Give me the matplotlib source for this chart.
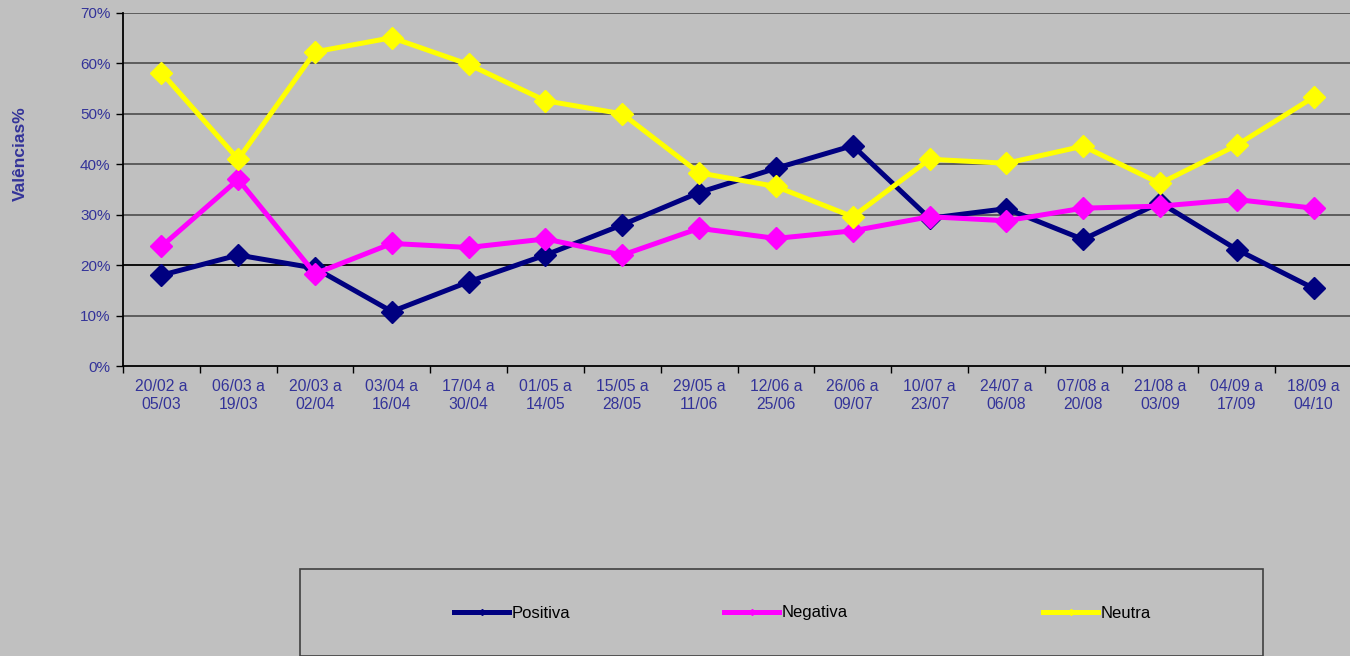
import matplotlib
matplotlib.use("Agg")
import matplotlib.pyplot as plt
from matplotlib.lines import Line2D
from matplotlib.patches import Rectangle
import numpy as np

plt.rcParams['font.family'] = ['Liberation Sans', 'DejaVu Sans']

# Periods (two-line labels) and series values in %
periods = ["20/02 a\n05/03", "06/03 a\n19/03", "20/03 a\n02/04", "03/04 a\n16/04",
           "17/04 a\n30/04", "01/05 a\n14/05", "15/05 a\n28/05", "29/05 a\n11/06",
           "12/06 a\n25/06", "26/06 a\n09/07", "10/07 a\n23/07", "24/07 a\n06/08",
           "07/08 a\n20/08", "21/08 a\n03/09", "04/09 a\n17/09", "18/09 a\n04/10"]
positiva = [18.0, 22.0, 19.4, 10.8, 16.7, 22.0, 28.0, 34.4,
            39.2, 43.7, 29.3, 31.2, 25.1, 32.4, 23.1, 15.4]
negativa = [23.7, 37.0, 18.3, 24.3, 23.5, 25.2, 22.0, 27.3,
            25.3, 26.8, 29.6, 28.8, 31.3, 31.7, 33.0, 31.3]
neutra = [58.2, 41.0, 62.3, 65.1, 59.8, 52.6, 50.0, 38.3,
          35.6, 29.6, 41.0, 40.2, 43.6, 36.2, 43.8, 53.3]

series = [("Positiva", positiva, "#000080"),
          ("Negativa", negativa, "#FF00FF"),
          ("Neutra", neutra, "#FFFF00")]

bg = "#C0C0C0"
txt_blue = "#333399"

fig = plt.figure(figsize=(13.5, 6.56), dpi=100)
fig.patch.set_facecolor(bg)
ax = fig.add_axes([123 / 1350, 1 - 366 / 656, 1229 / 1350, 353 / 656])
ax.set_facecolor(bg)

x = np.arange(len(periods))
for name, vals, col in series:
    ax.plot(x, vals, color=col, lw=3.6, marker="D", markersize=11,
            markeredgecolor=col, solid_joinstyle="miter", label=name, zorder=3)

ax.set_xlim(-0.5, len(periods) - 0.5)
ax.set_ylim(0, 70)
ax.set_yticks(np.arange(0, 71, 10))
ax.set_yticklabels([f"{v}%" for v in range(0, 71, 10)])
for v in range(10, 71, 10):
    ax.axhline(v, color="#000000" if v == 20 else "#555555", lw=1.3, zorder=1)

ax.set_xticks(x)
ax.set_xticklabels(periods, linespacing=1.25)
ax.set_xticks(np.arange(-0.5, len(periods), 1), minor=True)
ax.tick_params(axis="x", which="major", length=0, pad=9, labelsize=11.3, labelcolor=txt_blue)
ax.tick_params(axis="x", which="minor", length=5, width=1, direction="out", color="black")
ax.tick_params(axis="y", length=5, width=1, direction="out", pad=4, labelsize=11,
               labelcolor=txt_blue)

for s in ["top", "right"]:
    ax.spines[s].set_visible(False)
for s in ["left", "bottom"]:
    ax.spines[s].set_color("black")
    ax.spines[s].set_linewidth(1.3)

fig.text(20 / 1350, 1 - 154 / 656, "Valências%", rotation=90, ha="center", va="center",
         fontsize=12.5, fontweight="bold", color=txt_blue)

# legend box
fig.patches.append(Rectangle((300 / 1350, 0), 963 / 1350, (656 - 569) / 656,
                             transform=fig.transFigure, facecolor=bg,
                             edgecolor="#404040", lw=1.2))
leg_x = [452, 722, 1041]
for (name, vals, col), lx in zip(series, leg_x):
    h = Line2D([], [], color=col, lw=3.6, marker="D", markersize=3, markeredgecolor=col)
    fig.legend(handles=[h], labels=[name], loc="center left",
               bbox_to_anchor=(lx / 1350 - 0.0095, 1 - 613 / 656), frameon=False,
               handlelength=3.3, handletextpad=0.15, fontsize=12)

fig.savefig("out.png", dpi=100, facecolor=bg)
